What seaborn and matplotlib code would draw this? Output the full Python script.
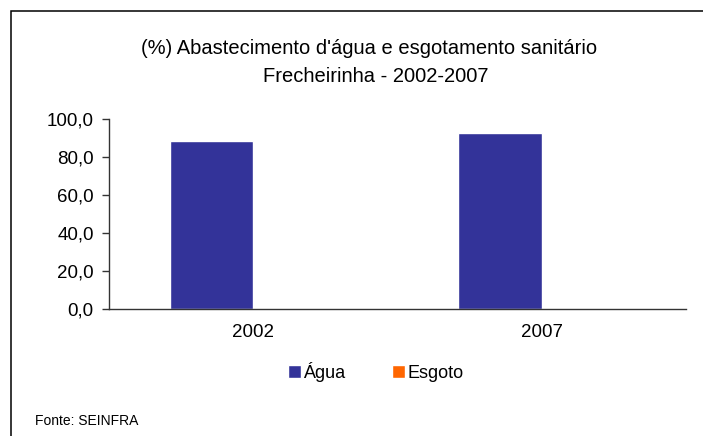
import pandas as pd
import seaborn as sns
import matplotlib.pyplot as plt
import matplotlib.ticker as mticker
from matplotlib.patches import Rectangle

# data
anos = ["2002", "2007"]
agua = [88.6, 92.8]
esgoto = [0.0, 0.0]
series = ["Água", "Esgoto"]
cores = ["#333399", "#FF6600"]

df = pd.DataFrame({
    "ano": anos * 2,
    "serie": ["Água"] * len(anos) + ["Esgoto"] * len(anos),
    "valor": agua + esgoto,
})

sns.set_theme(style="white")
plt.rcParams["font.family"] = ["Liberation Sans", "DejaVu Sans"]
plt.rcParams["text.color"] = "black"

fig = plt.figure(figsize=(7.03, 4.36), dpi=100)
ax = fig.add_axes([109 / 703, 1 - 309 / 436, (686 - 109) / 703, (309 - 119) / 436])

sns.barplot(
    data=df, x="ano", y="valor", hue="serie",
    hue_order=series, palette=cores, width=0.58,
    saturation=1, ax=ax,
)

ax.set_xlim(-0.5, 1.5)
ax.set_ylim(0, 100)
ax.set_xlabel("")
ax.set_ylabel("")
ax.yaxis.set_major_locator(mticker.MultipleLocator(20))
ax.yaxis.set_major_formatter(mticker.FuncFormatter(lambda v, p: f"{v:.1f}".replace(".", ",")))

# category separators as ticks, labels at centres
ax.set_xticks([-0.5, 0.5, 1.5], minor=True)
ax.tick_params(axis="x", which="major", length=0, labelsize=13.5, pad=11, labelcolor="black")
ax.tick_params(axis="x", which="minor", length=6, width=1, direction="out", color="#333333")
ax.tick_params(axis="y", length=5, width=1, direction="out", labelsize=13.5, pad=6,
               labelcolor="black", color="#333333", left=True)

sns.despine(ax=ax)
for s in ("left", "bottom"):
    ax.spines[s].set_color("#333333")
    ax.spines[s].set_linewidth(1.0)

handles, labels = ax.get_legend_handles_labels()
ax.get_legend().remove()
fig.legend(
    handles, labels, loc="center", bbox_to_anchor=(376 / 703, 1 - 372 / 436),
    ncol=2, frameon=False, fontsize=13, handlelength=0.7, handleheight=0.7,
    handletextpad=0.15, columnspacing=2.6,
)

fig.text(369 / 703, 1 - 48 / 436, "(%) Abastecimento d'água e esgotamento sanitário",
         ha="center", va="center", fontsize=14.5)
fig.text(376 / 703, 1 - 76 / 436, "Frecheirinha - 2002-2007",
         ha="center", va="center", fontsize=14.5)
fig.text(35 / 703, 1 - 421 / 436, "Fonte: SEINFRA", ha="left", va="center", fontsize=10)

# outer chart border (left and top visible)
fig.patches.append(Rectangle((10.5 / 703, -0.05), 1.0, 1 - 10.5 / 436 + 0.05,
                             transform=fig.transFigure, fill=False,
                             edgecolor="black", linewidth=1.1))

fig.savefig("out.png", dpi=100)
